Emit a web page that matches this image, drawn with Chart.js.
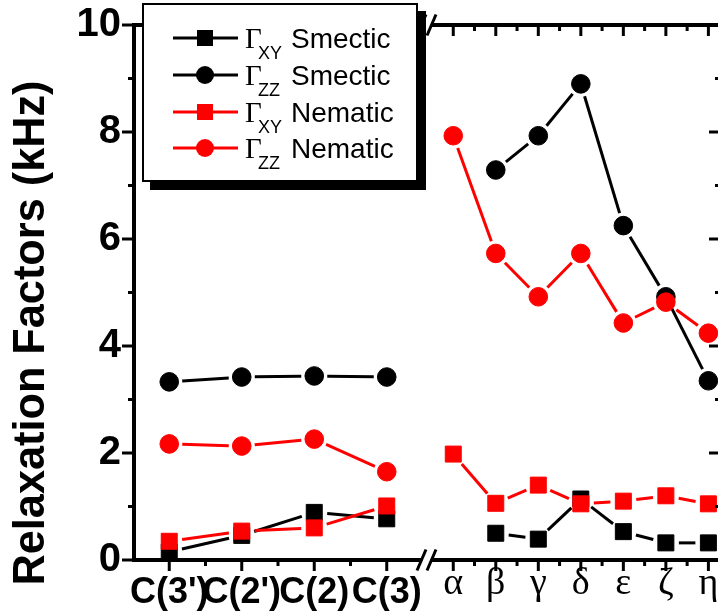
<!DOCTYPE html>
<html>
<head>
<meta charset="utf-8">
<script src="https://cdn.jsdelivr.net/npm/chart.js@4.4.0/dist/chart.umd.min.js"></script>
<style>
html,body{margin:0;padding:0;background:#fff;overflow:hidden;}
#wrap{position:relative;width:718px;height:614px;overflow:hidden;background:#fff;}
#cR{position:absolute;left:400px;top:0;}
#cL{position:absolute;left:0;top:0;}
</style>
</head>
<body>
<div id="wrap">
<canvas id="cR" width="360" height="614"></canvas>
<canvas id="cL" width="440" height="614"></canvas>
</div>
<script>
// ---------- data ----------
const groupA = ["C(3')", "C(2')", "C(2)", "C(3)"];
const groupB = ["α", "β", "γ", "δ", "ε", "ζ", "η"];

const xySmecticA = [0.15, 0.46, 0.89, 0.77];
const zzSmecticA = [3.33, 3.42, 3.44, 3.42];
const xyNematicA = [0.35, 0.54, 0.60, 1.01];
const zzNematicA = [2.17, 2.13, 2.26, 1.65];

const xySmecticB = [null, 0.50, 0.39, 1.14, 0.53, 0.32, 0.32];
const zzSmecticB = [null, 7.29, 7.93, 8.90, 6.25, 4.92, 3.35];
const xyNematicB = [1.98, 1.06, 1.40, 1.05, 1.10, 1.20, 1.05];
const zzNematicB = [7.93, 5.73, 4.92, 5.73, 4.43, 4.82, 4.24];

const yTicks = [0, 2, 4, 6, 8, 10];
const yTitle = "Relaxation Factors (kHz)";
const seriesNames = [
  {sym: "Γ", sub: "XY", name: "Smectic"},
  {sym: "Γ", sub: "ZZ", name: "Smectic"},
  {sym: "Γ", sub: "XY", name: "Nematic"},
  {sym: "Γ", sub: "ZZ", name: "Nematic"}
];

// ---------- helpers ----------
const BLACK = "#000000", RED = "#ff0000";
const SANS = "'Liberation Sans', Arial, sans-serif";
const SERIF = "'Liberation Serif', 'Times New Roman', serif";
const yMinor = yTicks.slice(0, -1).map((v, i) => (v + yTicks[i + 1]) / 2);

function pts(vals) { return vals.map((v, i) => ({x: i, y: v})); }
function mkDatasets(xyS, zzS, xyN, zzN) {
  const base = {showLine: false, pointBorderWidth: 1};
  return [
    Object.assign({label: "XY Smectic", data: pts(xyS), pointStyle: "rect", pointRadius: 11.3,
      backgroundColor: BLACK, borderColor: BLACK, pointBackgroundColor: BLACK, pointBorderColor: BLACK, order: 4}, base),
    Object.assign({label: "ZZ Smectic", data: pts(zzS), pointStyle: "circle", pointRadius: 9.3,
      backgroundColor: BLACK, borderColor: BLACK, pointBackgroundColor: BLACK, pointBorderColor: BLACK, order: 3}, base),
    Object.assign({label: "XY Nematic", data: pts(xyN), pointStyle: "rect", pointRadius: 11.3,
      backgroundColor: RED, borderColor: RED, pointBackgroundColor: RED, pointBorderColor: RED, order: 2}, base),
    Object.assign({label: "ZZ Nematic", data: pts(zzN), pointStyle: "circle", pointRadius: 9.3,
      backgroundColor: RED, borderColor: RED, pointBackgroundColor: RED, pointBorderColor: RED, order: 1}, base)
  ];
}

function seg(ctx, x1, y1, x2, y2) { ctx.beginPath(); ctx.moveTo(x1, y1); ctx.lineTo(x2, y2); ctx.stroke(); }
function noPad(s) { s.paddingTop = 0; s.paddingBottom = 0; s.paddingLeft = 0; s.paddingRight = 0; }

// lines between markers with a small gap (drawn from the library's point positions)
const gapLines = {
  id: "gapLines",
  beforeDatasetsDraw(chart) {
    const ctx = chart.ctx;
    const metas = chart.getSortedVisibleDatasetMetas();
    ctx.save();
    ctx.lineWidth = 3;
    ctx.lineCap = "butt";
    for (let m = metas.length - 1; m >= 0; m--) {
      const meta = metas[m];
      const ds = chart.data.datasets[meta.index];
      ctx.strokeStyle = ds.borderColor;
      const p = meta.data;
      for (let i = 0; i < p.length - 1; i++) {
        const a = p[i], b = p[i + 1];
        if (a.skip || b.skip) continue;
        const dx = b.x - a.x, dy = b.y - a.y, L = Math.hypot(dx, dy), g = 13;
        if (L <= 2 * g) continue;
        const ux = dx / L, uy = dy / L;
        seg(ctx, a.x + ux * g, a.y + uy * g, b.x - ux * g, b.y - uy * g);
      }
    }
    ctx.restore();
  }
};

function drawXTicks(ctx, chart, n) {
  const a = chart.chartArea, xs = chart.scales.x;
  ctx.lineWidth = 3;
  for (let i = 0; i < n; i++) {
    const px = xs.getPixelForValue(i);
    seg(ctx, px, a.bottom, px, a.bottom + 11);
    seg(ctx, px, a.top, px, a.top + 11);
  }
  for (let i = 0; i < n - 1; i++) {
    const px = xs.getPixelForValue(i + 0.5);
    seg(ctx, px, a.bottom, px, a.bottom + 6);
    seg(ctx, px, a.top, px, a.top + 6);
  }
}

const frameLeft = {
  id: "frameLeft",
  afterDatasetsDraw(chart) {
    const ctx = chart.ctx, a = chart.chartArea, ys = chart.scales.y;
    ctx.save();
    ctx.strokeStyle = BLACK;
    ctx.lineCap = "butt";
    const ax = a.left + 1;
    ctx.lineWidth = 4;
    seg(ctx, ax, a.top - 2, ax, a.bottom + 2);
    seg(ctx, ax, a.bottom, a.right, a.bottom);
    seg(ctx, ax, a.top, a.right, a.top);
    ctx.lineWidth = 3;
    yTicks.forEach(v => { const py = ys.getPixelForValue(v); seg(ctx, ax - 12, py, ax, py); });
    yMinor.forEach(v => { const py = ys.getPixelForValue(v); seg(ctx, ax - 6, py, ax, py); });
    drawXTicks(ctx, chart, groupA.length);
    // axis break marks
    [a.top, a.bottom].forEach(y0 => {
      const c1 = 421.5, c2 = 431.5, dx = 4.5, dy = 10.5;
      ctx.fillStyle = "#fff";
      ctx.beginPath();
      ctx.moveTo(c1 - dx + 1, y0 + dy); ctx.lineTo(c1 + dx + 1, y0 - dy);
      ctx.lineTo(c2 + dx - 1, y0 - dy); ctx.lineTo(c2 - dx - 1, y0 + dy); ctx.closePath(); ctx.fill();
      ctx.lineWidth = 3;
      seg(ctx, c1 - dx, y0 + dy, c1 + dx, y0 - dy);
      seg(ctx, c2 - dx, y0 + dy, c2 + dx, y0 - dy);
    });
    ctx.restore();
  },
  afterDraw(chart) {
    const ctx = chart.ctx;
    ctx.save();
    // y title
    ctx.translate(32, 333);
    ctx.rotate(-Math.PI / 2);
    ctx.fillStyle = BLACK;
    ctx.font = "bold 44px " + SANS;
    ctx.textAlign = "center";
    ctx.textBaseline = "middle";
    ctx.fillText(yTitle, 0, 0, 505);
    ctx.restore();

    // legend
    ctx.save();
    const bx = 142, by = 3, bw = 276, bh = 179, sh = 8;
    ctx.fillStyle = BLACK; ctx.fillRect(bx + sh, by + sh, bw, bh);
    ctx.fillStyle = "#fff"; ctx.fillRect(bx, by, bw, bh);
    ctx.strokeStyle = BLACK; ctx.lineWidth = 2; ctx.strokeRect(bx + 1, by + 1, bw - 2, bh - 2);
    const rows = [38, 75, 112, 148];
    const ds = chart.data.datasets;
    rows.forEach((cy, k) => {
      const d = ds[k];
      ctx.strokeStyle = d.borderColor; ctx.lineWidth = 3;
      seg(ctx, 173, cy, 238, cy);
      ctx.fillStyle = d.pointBackgroundColor;
      if (d.pointStyle === "rect") { ctx.fillRect(205 - 8, cy - 8, 16, 16); }
      else { ctx.beginPath(); ctx.arc(205, cy, 9, 0, Math.PI * 2); ctx.fill(); }
      const s = seriesNames[k];
      ctx.fillStyle = BLACK;
      ctx.textBaseline = "alphabetic";
      ctx.textAlign = "left";
      ctx.font = "29px " + SERIF;
      ctx.fillText(s.sym, 245, cy + 10);
      ctx.font = "18px " + SANS;
      ctx.fillText(s.sub, 258, cy + 21);
      ctx.font = "28px " + SANS;
      ctx.fillText(s.name, 291, cy + 10);
    });
    ctx.restore();
  }
};

const frameRight = {
  id: "frameRight",
  afterDatasetsDraw(chart) {
    const ctx = chart.ctx, a = chart.chartArea, ys = chart.scales.y;
    ctx.save();
    ctx.strokeStyle = BLACK;
    ctx.lineCap = "butt";
    ctx.lineWidth = 4;
    seg(ctx, a.left - 8, a.bottom, a.right, a.bottom);
    seg(ctx, a.left - 8, a.top, a.right, a.top);
    seg(ctx, a.right, a.top - 2, a.right, a.bottom + 2);
    ctx.lineWidth = 3;
    yTicks.forEach(v => { const py = ys.getPixelForValue(v); seg(ctx, a.right - 13, py, a.right, py); });
    yMinor.forEach(v => { const py = ys.getPixelForValue(v); seg(ctx, a.right - 7, py, a.right, py); });
    drawXTicks(ctx, chart, groupB.length);
    ctx.restore();
  }
};

Chart.defaults.devicePixelRatio = 1;

// ---------- left panel ----------
new Chart(document.getElementById("cL"), {
  type: "line",
  data: {datasets: mkDatasets(xySmecticA, zzSmecticA, xyNematicA, zzNematicA)},
  options: {
    responsive: false, animation: false, devicePixelRatio: 1,
    layout: {padding: {left: 0, right: 17, top: 25, bottom: 0}},
    plugins: {legend: {display: false}, tooltip: {enabled: false}},
    scales: {
      x: {
        type: "linear", min: -0.5, max: groupA.length - 0.5,
        grid: {display: false, drawTicks: false}, border: {display: false},
        afterBuildTicks: s => { s.ticks = groupA.map((c, i) => ({value: i})); },
        afterFit: s => { s.height = 54; noPad(s); },
        ticks: {callback: (v, i) => groupA[i], color: BLACK, padding: 11, maxRotation: 0, autoSkip: false,
          font: {family: SANS, weight: "bold", size: 36}}
      },
      y: {
        min: 0, max: 10,
        grid: {display: false, drawTicks: false}, border: {display: false},
        afterBuildTicks: s => { s.ticks = yTicks.map(v => ({value: v})); },
        afterFit: s => { s.width = 133; noPad(s); },
        ticks: {color: BLACK, padding: 12, font: {family: SANS, weight: "bold", size: 40}}
      }
    }
  },
  plugins: [gapLines, frameLeft]
});

// ---------- right panel ----------
new Chart(document.getElementById("cR"), {
  type: "line",
  data: {datasets: mkDatasets(xySmecticB, zzSmecticB, xyNematicB, zzNematicB)},
  options: {
    responsive: false, animation: false, devicePixelRatio: 1,
    layout: {padding: {left: 32, right: 38, top: 25, bottom: 0}},
    plugins: {legend: {display: false}, tooltip: {enabled: false}},
    scales: {
      x: {
        type: "linear", min: -0.5, max: groupB.length - 0.68,
        grid: {display: false, drawTicks: false}, border: {display: false},
        afterBuildTicks: s => { s.ticks = groupB.map((c, i) => ({value: i})); },
        afterFit: s => { s.height = 54; noPad(s); },
        ticks: {callback: (v, i) => groupB[i], color: BLACK, padding: 1, maxRotation: 0, autoSkip: false,
          font: {family: SERIF, size: 38}}
      },
      y: {min: 0, max: 10, display: false}
    }
  },
  plugins: [gapLines, frameRight]
});
</script>
</body>
</html>
